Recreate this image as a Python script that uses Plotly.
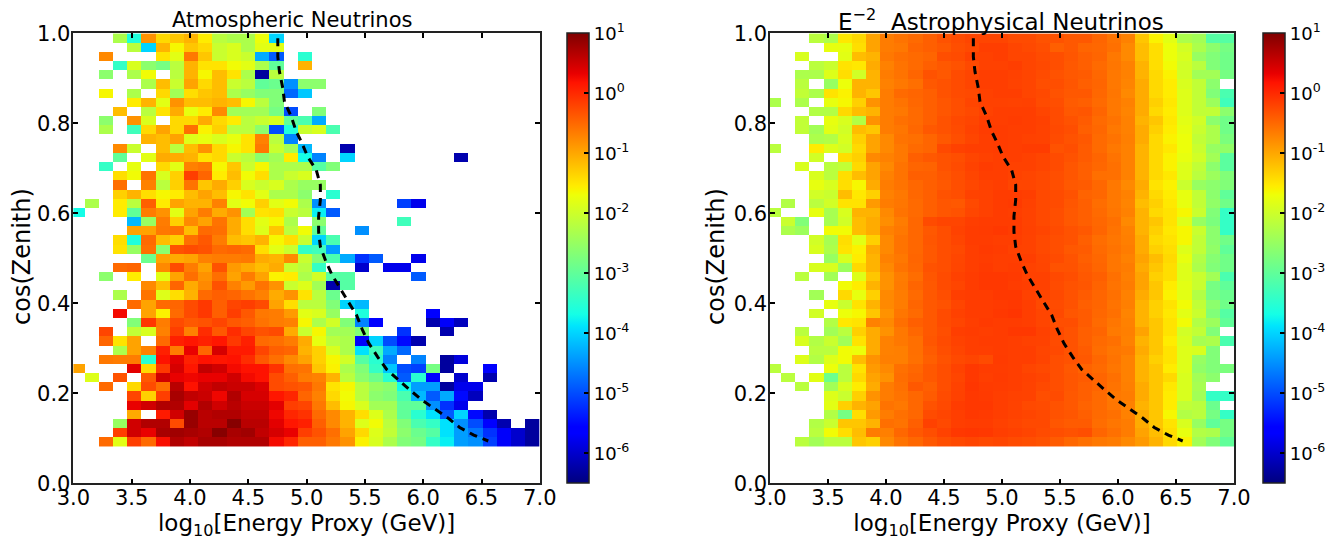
import numpy as np
import plotly.graph_objects as go

_ = None
# Cell values as read by eye against the colours, top row (cos zenith = 1) first; short rows are empty on the right.
ATM = [
[_,_,_,-2.3,-3.6,-1.0,-1.4,-1.3,-1.2,-1.6,-2.2,-2.3,-2.3,-1.8,-4.0],
[_,_,_,_,-2.2,-4.0,-1.2,-1.7,-1.3,-1.4,-2.1,-2.0,-2.3,-1.9,-1.9],
[_,_,-.95,_,_,_,-1.5,-1.9,-.8,-1.3,-2.1,-2.0,-2.1,-4.3,-4.9,_,-3.5],
[_,_,_,-3.4,-2.0,-2.6,-2.8,-2.2,-1.2,-1.5,-1.5,-1.75,-1.9,-2.3,-3.0,_,-1.2],
[_,_,-2.6,_,-2.3,-1.75,_,-2.2,-1.2,-1.7,-1.25,-1.5,-2.3,-6.3,-2.2],
[_,_,_,_,_,-2.3,-1.25,-2.1,-1.1,-1.4,-1.25,-2.1,-2.2,-3.0,-2.9,-4.5,-2.6,-2.6],
[_,_,-1.7,_,-2.3,_,-1.4,-2.4,-1.45,-1.3,-1.25,-2.3,-2.5,-2.7,-2.7,-4.8,-4.1],
[_,_,_,_,-1.6,-1.2,-1.9,-1.0,-1.25,-1.25,-1.2,-1.25,-1.7,-2.2,-2.7],
[_,_,_,-1.25,_,-2.2,-1.5,-1.15,-1.85,-1.6,-.95,-2.4,-2.4,-2.4,-2.8,-5.0,_,-2.7],
[_,_,-2.6,_,-1.0,-2.0,_,-1.4,-1.4,-1.15,-1.4,-1.6,-2.2,-2.1,-2.0,-3.0,-3.2,-4.3],
[_,_,-2.3,_,-3.3,-1.4,-1.1,-1.4,-.7,-1.65,-1.35,-2.2,-2.2,-2.6,-5.0,-3.6,-2.1,-2.0,-3.2],
[_,_,_,_,_,-1.2,-1.25,-1.1,-1.95,-1.85,-2.0,-1.85,-1.5,-.9,-2.2,-4.6],
[_,_,_,-.95,-2.1,_,-1.25,-2.2,-1.25,-1.0,-1.4,-1.7,-1.5,-.8,-2.1,-2.4,-4.2,_,_,-6.2],
[_,_,_,-3.0,_,-1.9,-1.15,-1.15,-1.2,-1.5,-1.4,-2.1,-2.2,-2.6,-2.4,-1.6,-3.7,-4.6,_,-4.0,_,_,_,_,_,_,_,-6.2],
[_,_,-3.4,_,-1.85,_,-1.4,-1.9,-.9,-.8,-1.7,-1.3,-2.1,-1.7,-2.3,-2.3,-2.3,-3.1,-2.7],
[_,_,_,-1.45,-1.75,-.75,-2.0,-1.35,-.3,-.6,-1.6,-1.25,-1.75,-1.45,-2.3,-2.1,-2.0],
[_,_,_,-.7,_,-.9,-2.2,-1.35,-.75,-1.3,-1.15,-1.35,-2.0,-2.1,-2.0,-2.3,-2.5,-2.5],
[_,_,_,-1.35,-1.2,-1.45,-1.7,-1.6,-1.25,-1.1,-1.25,-1.7,-1.5,-1.9,-2.3,-2.3,-2.6,_,-3.5],
[_,-2.3,_,-1.6,-2.2,-.55,-1.6,-1.1,-1.2,-1.2,-.9,-1.9,-1.75,-1.35,-1.9,-1.75,-2.3,-4.5,_,_,_,_,_,-5.1,-5.8],
[-3.7,_,_,-1.6,-3.0,-.85,-1.0,-1.9,-1.1,-.85,-1.15,-1.0,-2.4,-1.5,-1.45,-2.1,-2.2,-3.8,-4.9],
[_,_,_,_,-4.2,-2.5,-.85,-1.35,-.95,-1.1,-.75,-1.15,-1.45,-1.9,-1.7,-2.3,_,-2.6,_,_,_,_,_,-3.3],
[_,_,_,_,-1.1,-1.1,-.8,-.75,-1.25,-.65,-.7,-1.15,-1.45,-1.95,-1.3,-2.2,-1.75,-3.0,_,_,-4.5],
[_,_,_,-1.45,-3.6,-.65,-1.25,-1.35,-.7,-.5,-.85,-1.25,-1.3,-1.2,-1.7,-1.45,-2.1,-4.0,-3.2],
[_,_,_,-1.5,-2.5,-.7,-2.6,-.45,-.4,-.45,-.65,-.6,-.65,-1.45,-1.9,-2.1,-3.4,-3.3,-4.4],
[_,_,_,_,_,-2.9,-1.1,-1.15,-1.1,-.9,-.85,-.85,-.8,-1.15,-1.2,-.95,-2.1,-2.7,-3.2,-4.3,-5.2,-4.9,_,_,-5.8],
[_,_,_,-.65,-.6,_,-.95,-.4,-.85,-1.1,-.45,-1.05,-1.15,-1.25,-1.15,-2.1,-2.2,-3.4,_,_,-6.0,_,-5.8,-5.8],
[_,_,-2.6,_,-1.6,_,-1.9,-1.1,-.7,-1.0,-.7,-1.1,-.85,-1.1,-1.65,-1.6,-2.3,-2.05,-3.1,-3.1,_,_,_,_,-4.9],
[_,_,_,_,_,-.95,-1.25,-.6,-1.15,-.95,-.45,-.9,-1.05,-.75,-1.0,-2.1,-1.95,-2.4,-6.2,-3.1],
[_,_,_,-2.3,_,-.75,-1.95,-1.45,-1.2,-.65,-.55,-.6,-.75,-.9,-1.15,-1.0,-1.5,-2.2,-2.9],
[_,_,_,_,-.65,-1.1,-.65,-.6,-.4,-.25,-.55,-.35,-.3,-.4,-1.1,-1.45,-2.2,-2.2,-2.7,-4.0,-4.2],
[_,_,_,.2,_,-1.1,-1.65,-.65,-.4,-.25,-.55,-.3,-.5,-.8,-.85,-1.05,-1.9,-2.0,-2.5,_,-3.6,_,_,_,_,-5.6],
[_,_,_,_,-2.7,-.25,-.85,-.4,-.5,-.45,-.35,-.5,-.55,-.75,-.85,-.9,-1.7,-2.3,-2.05,-2.7,-4.6,-5.6,_,_,_,-6.2,-5.7,-6.1],
[_,_,-.35,_,-2.15,-2.0,-.9,-.3,-.9,-.15,-.5,-.15,-.35,-.45,-.4,-1.15,-2.1,-1.7,-2.4,-2.4,-2.7,_,_,-5.2,_,_,-6.2],
[_,_,-.6,-1.5,-1.1,_,-.65,-.05,.05,-.05,.05,-.25,-.05,-.65,-.7,-.85,-1.15,-1.85,-2.2,-2.3,-5.7,-4.0,-5.0,-5.5,-6.2],
[_,_,_,-2.3,-1.1,-.9,-.05,-.85,.3,-.6,.45,0,0,-.35,-.55,-.6,-1.2,-1.35,-2.0,-2.3,-3.9,-3.3,-4.3,-4.8],
[_,_,-.8,-.85,-.85,-3.5,.1,.35,-.05,.1,.05,.1,-.15,-.5,-.7,-.95,-1.1,-1.35,-1.7,-2.05,-3.1,-3.5,-4.6,_,-4.6,_,-6.3,-5.9],
[-1.1,_,_,_,.35,-1.4,-.25,.45,.05,.6,.5,.2,.1,.1,-.2,-.7,-.75,-1.3,-1.65,-2.3,-2.7,-3.4,-4.1,-5.0,-5.1,-2.8,-6.3,_,_,-5.6],
[_,-1.95,_,-.45,_,-.5,.5,.3,.25,.3,.3,.5,.2,.1,-.4,-.55,-.85,-.9,-1.2,-2.2,-2.6,-2.9,-3.5,-4.9,-3.5,-5.6,_,-6.0,_,-6.2],
[_,_,-.65,_,-1.4,-.4,-.7,.65,.1,.5,.6,.55,.55,.4,-.4,-.45,-.5,-.8,-1.5,-1.7,-2.2,-2.5,-2.6,-3.7,-4.4,-4.4,-6.3,-5.8,-5.8],
[_,_,_,_,-.35,-1.35,-.3,.75,.6,.55,.25,.7,.45,.45,.05,-.1,-.6,-.9,-1.4,-1.75,-2.2,-2.6,-2.7,-3.2,-4.2,-4.9,-4.3,-5.5,-6.1],
[_,_,_,_,.3,.5,.7,.7,.35,.7,.5,.65,.55,.55,.35,-.3,-.35,-.8,-1.25,-1.7,-2.0,-2.4,-2.4,-3.0,-3.0,-4.5,-5.2,-5.8],
[_,_,_,_,-1.15,_,0,.5,.85,.65,.7,.7,.6,.6,.25,-.1,-.2,-.65,-.95,-1.2,-1.45,-1.95,-2.3,-3.0,-3.5,-3.9,-4.9,-4.0,-5.5,-6.2],
[_,_,_,-2.5,.5,.7,.7,-.4,.85,.65,.65,.95,.65,.65,.35,.05,-.05,-.55,-.95,-1.2,-1.95,-1.75,-2.2,-2.7,-3.2,-3.4,-3.9,-4.5,-5.0,-5.6,-6.2,_,-6.3],
[_,_,_,-.3,.5,.3,.75,.8,.75,.7,.95,.75,.8,.6,.45,.3,-.3,-.45,-.7,-1.1,-1.4,-1.95,-2.15,-2.6,-2.9,-3.1,-3.9,-4.4,-4.7,-5.2,-5.7,-6.0,-6.3],
[_,_,-.65,-1.9,-.3,-.65,.15,.7,.6,.75,.75,.7,.7,.7,.2,-.1,-.55,-.55,-.8,-1.0,-1.65,-2.0,-2.3,-2.7,-2.8,-3.4,-3.8,-4.4,-4.5,-5.1,-5.7,-6.0,-6.3],
]
ASTRO = [
[_,_,_,-2.2,-2.3,-1.55,-1.4,-1.1,-.85,-.75,-.65,-.55,-.45,-.4,-.35,-.35,-.35,-.4,-.4,-.45,-.45,-.5,-.5,-.6,-.75,-.9,-1.3,-1.65,-1.9,-2.3,-2.4,-3.1,-3.1],
[_,_,_,_,-1.85,-1.85,-1.45,-1.1,-.85,-.8,-.6,-.55,-.5,-.42,-.38,-.3,-.3,-.35,-.38,-.42,-.55,-.5,-.6,-.62,-.72,-.95,-1.25,-1.45,-1.8,-2.05,-2.3,-2.6,-2.8],
[_,_,-2.0,_,_,-1.9,-1.25,-1.2,-.8,-.7,-.65,-.6,-.42,-.4,-.32,-.32,-.3,-.35,-.35,-.4,-.42,-.48,-.55,-.6,-.8,-.95,-1.25,-1.45,-1.8,-2.0,-2.5,-2.7,-2.85],
[_,_,_,-2.2,-2.1,-1.5,-1.55,-1.15,-.9,-.75,-.65,-.55,-.5,-.45,-.38,-.32,-.32,-.3,-.35,-.38,-.42,-.5,-.55,-.65,-.78,-.9,-1.2,-1.45,-1.75,-2.05,-2.2,-2.7,-2.85],
[_,_,-2.3,-2.3,-1.95,-1.45,-2.05,-1.2,-.85,-.75,-.6,-.45,-.5,-.4,-.35,-.3,-.3,-.32,-.35,-.4,-.45,-.5,-.52,-.62,-.8,-.9,-1.2,-1.4,-1.65,-2.05,-2.4,-2.4,-2.8],
[_,_,-2.2,_,-2.5,-1.8,-1.2,-1.2,-.9,-.8,-.7,-.5,-.45,-.4,-.35,-.3,-.3,-.33,-.35,-.42,-.42,-.48,-.55,-.6,-.8,-.92,-1.15,-1.4,-1.6,-2.0,-2.15,-2.6,_],
[_,_,-2.15,-2.3,-1.5,-1.65,-1.2,-1.3,-.85,-.65,-.6,-.55,-.45,-.4,-.38,-.32,-.3,-.3,-.35,-.38,-.45,-.5,-.5,-.62,-.78,-.95,-1.15,-1.4,-1.6,-1.95,-2.15,-2.7,-3.2],
[-2.3,_,-2.3,_,-1.85,-1.7,-1.35,-1.0,-.85,-.75,-.62,-.55,-.48,-.42,-.35,-.32,-.32,-.33,-.32,-.4,-.42,-.52,-.55,-.65,-.8,-.9,-1.15,-1.35,-1.55,-1.95,-2.15,-2.45,-3.3],
[_,_,_,-2.25,-2.25,-1.4,-1.25,-1.2,-.85,-.8,-.65,-.55,-.48,-.42,-.38,-.33,-.3,-.3,-.3,-.35,-.4,-.5,-.48,-.6,-.8,-.92,-1.15,-1.4,-1.6,-1.95,-2.15,-2.15,-2.6],
[_,_,-2.15,_,-1.85,-2.0,-2.25,-1.0,-.85,-.72,-.65,-.55,-.45,-.38,-.35,-.3,-.3,-.28,-.3,-.32,-.4,-.45,-.52,-.65,-.75,-.9,-1.2,-1.3,-1.55,-1.9,-2.05,-2.6,-2.85],
[_,_,-2.15,-2.4,-1.9,-2.05,-1.25,-1.3,-.85,-.78,-.62,-.5,-.45,-.4,-.33,-.28,-.28,-.3,-.3,-.33,-.38,-.42,-.55,-.62,-.8,-.9,-1.15,-1.35,-1.6,-1.85,-2.1,-2.3,-2.85],
[_,_,_,-2.3,-2.25,-2.0,-1.35,-1.1,-.95,-.75,-.7,-.6,-.5,-.42,-.35,-.3,-.28,-.3,-.32,-.33,-.4,-.45,-.5,-.65,-.75,-.88,-1.15,-1.4,-1.65,-1.8,-2.15,-2.3,-2.75],
[-2.2,_,_,-1.6,-1.95,-2.05,-1.4,-1.1,-.95,-.8,-.65,-.6,-.38,-.32,-.3,-.3,-.28,-.3,-.28,-.28,-.45,-.42,-.52,-.65,-.8,-.9,-1.2,-1.4,-1.55,-1.8,-2.1,-2.5,-2.55],
[_,_,_,-2.05,_,-1.45,-1.35,-.95,-.9,-.8,-.55,-.5,-.45,-.42,-.35,-.32,-.3,-.3,-.32,-.35,-.4,-.45,-.52,-.6,-.75,-.9,-1.2,-1.4,-1.65,-1.85,-2.05,-2.4,-3.05],
[_,_,-2.0,_,-2.2,-2.15,-1.4,-1.1,-.95,-.75,-.6,-.58,-.45,-.4,-.33,-.28,-.3,-.32,-.32,-.35,-.4,-.48,-.55,-.62,-.72,-.9,-1.2,-1.4,-1.65,-1.95,-2.15,-2.6,-3.05],
[_,_,_,-2.0,-2.2,-1.45,-1.25,-1.1,-.9,-.75,-.55,-.55,-.48,-.42,-.35,-.3,-.3,-.33,-.35,-.38,-.42,-.48,-.55,-.7,-.72,-.9,-1.2,-1.4,-1.55,-1.95,-2.2,-2.45,-2.7],
[_,_,_,-1.85,-2.0,-1.45,-1.7,-1.15,-.85,-.75,-.62,-.55,-.5,-.42,-.37,-.32,-.3,-.35,-.35,-.38,-.42,-.5,-.52,-.62,-.8,-.95,-1.15,-1.5,-1.65,-2.1,-2.5,-2.6,-2.7],
[_,_,_,-2.05,-2.1,-1.25,-1.55,-1.35,-.9,-.8,-.62,-.55,-.45,-.42,-.33,-.32,-.28,-.28,-.3,-.38,-.4,-.45,-.58,-.62,-.8,-.9,-1.2,-1.4,-1.6,-1.85,-2.15,-2.6,-3.0],
[_,-2.25,_,-2.2,-2.05,-1.5,-1.5,-1.05,-.85,-.78,-.65,-.55,-.48,-.5,-.38,-.32,-.28,-.26,-.32,-.38,-.4,-.48,-.55,-.68,-.8,-.92,-1.25,-1.35,-1.55,-1.85,-2.15,-2.55,-2.85],
[-2.2,_,_,-1.85,-2.35,-2.0,-1.2,-1.2,-.95,-.75,-.65,-.55,-.48,-.45,-.36,-.32,-.28,-.3,-.33,-.38,-.42,-.5,-.55,-.65,-.78,-.9,-1.2,-1.4,-1.5,-1.7,-2.1,-2.7,-3.4],
[_,-2.1,-2.7,_,-2.35,-2.05,-1.25,-1.15,-.98,-.85,-.62,-.4,-.35,-.35,-.3,-.28,-.28,-.28,-.33,-.38,-.42,-.5,-.55,-.62,-.72,-.95,-1.2,-1.3,-1.5,-1.95,-2.5,-2.75,-3.4],
[_,-2.3,-2.45,_,-1.75,-1.75,-1.25,-1.15,-.9,-.8,-.62,-.5,-.42,-.33,-.28,-.27,-.25,-.28,-.32,-.35,-.4,-.45,-.5,-.6,-.75,-.9,-1.2,-1.35,-1.55,-1.7,-2.1,-2.6,-3.4],
[_,_,_,-2.05,-2.35,-1.45,-1.9,-1.35,-.95,-.75,-.62,-.48,-.42,-.35,-.28,-.28,-.3,-.3,-.33,-.38,-.42,-.45,-.55,-.68,-.78,-.88,-1.15,-1.4,-1.5,-1.7,-2.15,-2.6,-2.85],
[_,_,_,-2.0,-2.3,-1.5,-1.65,-1.15,-.95,-.75,-.62,-.5,-.42,-.38,-.3,-.26,-.28,-.32,-.33,-.38,-.42,-.5,-.52,-.65,-.75,-.85,-1.15,-1.35,-1.45,-1.95,-2.15,-2.55,-3.0],
[_,_,_,_,-2.5,-2.0,-1.6,-1.2,-.9,-.8,-.6,-.5,-.42,-.36,-.3,-.28,-.3,-.3,-.3,-.36,-.4,-.46,-.55,-.62,-.78,-.9,-1.1,-1.25,-1.4,-1.85,-2.25,-2.65,-2.85],
[_,_,_,-2.0,-2.0,-2.45,-1.4,-1.2,-.95,-.75,-.62,-.45,-.42,-.35,-.3,-.26,-.3,-.28,-.33,-.35,-.45,-.45,-.52,-.6,-.78,-.85,-1.15,-1.3,-1.45,-1.95,-2.3,-2.7,-2.85],
[_,_,-2.2,_,-2.4,_,-1.95,-1.3,-1.0,-.85,-.68,-.48,-.4,-.32,-.28,-.25,-.25,-.26,-.32,-.32,-.38,-.42,-.5,-.55,-.72,-.88,-1.1,-1.35,-1.45,-1.95,-2.1,-2.4,-3.2],
[_,_,_,_,_,-1.75,-1.6,-1.2,-1.0,-.82,-.6,-.5,-.4,-.35,-.28,-.25,-.25,-.28,-.3,-.32,-.4,-.45,-.48,-.58,-.75,-.85,-1.1,-1.3,-1.6,-1.9,-2.1,-2.8,-3.0],
[_,_,_,-2.4,_,-1.4,-1.85,-1.35,-.95,-.85,-.65,-.5,-.42,-.3,-.28,-.28,-.25,-.25,-.32,-.35,-.38,-.45,-.52,-.6,-.72,-.9,-1.15,-1.3,-1.65,-1.9,-2.25,-2.8,-2.9],
[_,_,_,_,-1.85,-2.1,-1.5,-1.2,-.95,-.85,-.6,-.5,-.45,-.35,-.28,-.28,-.26,-.25,-.3,-.38,-.4,-.45,-.55,-.6,-.75,-.88,-1.2,-1.35,-1.5,-1.75,-2.15,-2.6,-2.85],
[_,_,_,-2.05,_,-1.8,-1.7,-1.3,-1.0,-.78,-.65,-.5,-.4,-.32,-.28,-.28,-.25,-.22,-.3,-.35,-.38,-.48,-.52,-.62,-.72,-.92,-1.2,-1.35,-1.55,-1.9,-2.1,-2.7,-3.1],
[_,_,_,_,-2.25,-1.55,-1.5,-.9,-.95,-.7,-.55,-.5,-.4,-.35,-.3,-.26,-.28,-.28,-.3,-.35,-.42,-.42,-.52,-.65,-.78,-.9,-1.2,-1.3,-1.5,-1.75,-2.25,-2.45,-3.0],
[_,_,-2.2,_,-2.4,-2.2,-1.35,-1.15,-1.0,-.8,-.62,-.5,-.42,-.3,-.28,-.3,-.28,-.25,-.25,-.32,-.38,-.45,-.55,-.6,-.82,-.88,-1.1,-1.3,-1.5,-2.05,-2.15,-2.7,_],
[_,_,-2.0,-2.25,-2.1,-2.4,-1.5,-1.15,-.9,-.8,-.7,-.48,-.4,-.33,-.3,-.28,-.28,-.3,-.32,-.33,-.4,-.45,-.55,-.65,-.72,-.9,-1.2,-1.3,-1.6,-2.0,-2.35,-2.3,-3.2],
[_,_,_,-2.2,-2.2,-1.75,-1.8,-1.15,-.9,-.88,-.7,-.52,-.42,-.35,-.3,-.3,-.28,-.3,-.3,-.35,-.38,-.45,-.52,-.68,-.78,-.82,-1.15,-1.3,-1.5,-1.95,-2.0,-2.7,_],
[_,_,-1.95,-2.25,-1.95,-1.75,-1.25,-1.0,-.88,-.88,-.72,-.55,-.45,-.38,-.35,-.4,-.27,-.3,-.3,-.34,-.42,-.45,-.5,-.62,-.75,-.9,-1.2,-1.35,-1.5,-1.95,-2.5,-2.7,_],
[-2.2,_,_,_,-1.8,-2.2,-1.5,-1.05,-.95,-.72,-.62,-.5,-.42,-.33,-.25,-.28,-.28,-.3,-.35,-.38,-.42,-.5,-.58,-.65,-.78,-.9,-1.2,-1.3,-1.6,-1.95,-2.55,-2.7,-2.75],
[_,-2.2,_,-1.9,-2.9,-2.2,-1.4,-1.1,-1.0,-.68,-.58,-.5,-.42,-.35,-.25,-.3,-.27,-.3,-.32,-.35,-.42,-.48,-.52,-.6,-.72,-.9,-1.2,-1.3,-1.4,-2.0,-2.4,-2.6,_],
[_,_,-2.2,_,-2.4,-2.0,-1.6,-1.15,-.85,-.72,-.5,-.55,-.42,-.33,-.23,-.27,-.28,-.3,-.33,-.38,-.42,-.48,-.55,-.6,-.75,-.88,-1.15,-1.3,-1.55,-2.0,-2.35,_,_],
[_,_,_,_,-1.95,-2.1,-1.35,-1.0,-.85,-.75,-.62,-.52,-.4,-.32,-.25,-.26,-.3,-.32,-.33,-.42,-.4,-.5,-.55,-.65,-.8,-.85,-1.15,-1.3,-1.6,-2.0,-2.4,-3.4,-3.4],
[_,_,_,_,-1.9,-1.35,-1.2,-1.1,-.75,-.8,-.62,-.45,-.38,-.28,-.25,-.25,-.3,-.33,-.38,-.4,-.45,-.5,-.58,-.65,-.78,-.9,-1.2,-1.3,-1.6,-2.15,-2.2,-2.9,_],
[_,_,_,_,-2.25,-2.8,-1.45,-1.05,-.85,-.72,-.62,-.4,-.35,-.3,-.25,-.26,-.3,-.33,-.35,-.38,-.45,-.48,-.55,-.65,-.72,-.9,-1.15,-1.3,-1.7,-2.25,-2.2,-2.8,-3.4],
[_,_,_,-2.25,-2.1,-1.3,-1.3,-1.2,-.7,-.75,-.55,-.32,-.38,-.3,-.28,-.28,-.32,-.35,-.38,-.38,-.48,-.52,-.52,-.68,-.78,-.85,-1.15,-1.3,-1.5,-2.0,-2.5,-3.0,-2.8],
[_,_,_,-2.2,-1.75,-1.45,-1.25,-.85,-.88,-.62,-.5,-.42,-.33,-.25,-.23,-.25,-.3,-.32,-.35,-.4,-.42,-.45,-.42,-.6,-.72,-.85,-1.1,-1.25,-1.45,-1.85,-2.25,-2.3,-2.8],
[_,_,-2.2,-2.4,-2.2,-2.2,-1.3,-1.35,-.95,-.75,-.62,-.5,-.42,-.38,-.35,-.38,-.36,-.4,-.42,-.45,-.52,-.62,-.72,-.8,-.85,-.95,-1.05,-1.2,-1.4,-1.65,-2.4,-2.7,-3.0],
]
# Eye readings above ran slightly low in the orange-red range; these pairs (reading, log10 value) correct them.
READ = [-7, -2.25, -2.0, -1.7, -1.4, -1.2, -.9, -.6, -.3, 0, .25, .55, 1]
LOG10 = [-7, -2.25, -1.9, -1.63, -1.4, -1.1, -.7, -.48, -.17, .12, .28, .52, 1]
# Median energy proxy versus cos(zenith), drawn on both panels.
MEDIAN_LOGE = [4.753,4.753,4.767,4.796,4.810,4.868,4.911,4.960,5.009,5.083,5.118,5.118,5.103,5.103,5.118,5.164,5.218,5.284,5.356,5.428,5.477,5.534,5.609,5.687,5.787,5.888,5.989,6.098,6.213,6.313,6.434,6.558]
MEDIAN_COSZ = [.989,.948,.915,.878,.848,.815,.782,.756,.726,.696,.663,.630,.593,.559,.526,.494,.463,.434,.404,.374,.342,.311,.281,.253,.229,.207,.185,.165,.145,.124,.107,.094]

X_EDGES = [round(2.974 + .122 * k, 3) for k in range(34)]
Y_EDGES = [round(.0816 + .0204 * k, 4) for k in range(46)]
CB_VALS = [1, 0, -1, -2, -3, -4, -5, -6]
CB_TEXT = ["10<sup>1</sup>", "10<sup>0</sup>", "10<sup>-1</sup>", "10<sup>-2</sup>", "10<sup>-3</sup>", "10<sup>-4</sup>", "10<sup>-5</sup>", "10<sup>-6</sup>"]
JET = [[0, "rgb(0,0,127)"], [.11, "rgb(0,0,255)"], [.125, "rgb(0,0,255)"], [.34, "rgb(0,219,255)"], [.35, "rgb(0,230,252)"],
       [.375, "rgb(21,255,230)"], [.64, "rgb(238,255,8)"], [.65, "rgb(247,246,0)"], [.66, "rgb(255,236,0)"],
       [.89, "rgb(255,19,0)"], [.91, "rgb(232,0,0)"], [1, "rgb(127,0,0)"]]
TITLES = ["Atmospheric Neutrinos", "E<sup>−2</sup>  Astrophysical Neutrinos"]
FONT = "DejaVu Sans"
BODY = 8  # the page keeps its default 8 px body margin
W, H = 1338 - BODY, 542 - BODY
TOP, BOT = 33.3, 483.3
ML, MR, MT, MB = 30, 10, 15, 10


def fx(px):
    return (px - BODY - ML) / (W - ML - MR)


def fy(py):
    return 1 - (py - BODY - MT) / (H - MT - MB)


def prepare(rows):
    out = []
    for r in rows[::-1]:
        cells = r + [None] * (33 - len(r))
        out.append([None if v is None else float(np.interp(v, READ, LOG10)) for v in cells])
    return out


fig = go.Figure()
panels = [(ATM, 567, "x", "y"), (ASTRO, 1263, "x2", "y2")]
for z, cb, xa, ya in panels:
    fig.add_trace(go.Heatmap(
        z=prepare(z), x=X_EDGES, y=Y_EDGES, xaxis=xa, yaxis=ya, zmin=-6.5, zmax=1, colorscale=JET,
        hoverongaps=False,
        colorbar=dict(x=fx(cb), xanchor="left", xpad=0, ypad=0, y=fy(BOT), yanchor="bottom",
                      lenmode="fraction", len=fy(TOP) - fy(BOT), thickness=22, thicknessmode="pixels",
                      tickvals=CB_VALS, ticktext=CB_TEXT, ticks="inside", ticklen=5, tickwidth=1.5,
                      tickcolor="black", outlinecolor="#222", outlinewidth=1.5,
                      tickfont=dict(family=FONT, size=18, color="black"))))
    fig.add_trace(go.Scatter(x=MEDIAN_LOGE, y=MEDIAN_COSZ, xaxis=xa, yaxis=ya, mode="lines",
                             line=dict(color="black", width=3, dash="8px,6px"), showlegend=False))

axis = dict(ticks="inside", ticklen=5, tickwidth=1.5, tickcolor="black", showline=True, linecolor="#222",
            linewidth=1.5, mirror="ticks", showgrid=False, zeroline=False,
            tickfont=dict(family=FONT, size=21, color="black"), layer="above traces")
xt = dict(text="log<sub>10</sub>[Energy Proxy (GeV)]", font=dict(family=FONT, size=23, color="black"), standoff=6)
xcommon = dict(axis, range=[3, 7], tickvals=[3, 3.5, 4, 4.5, 5, 5.5, 6, 6.5, 7], ticklabelstandoff=-5,
               ticktext=["3.0", "3.5", "4.0", "4.5", "5.0", "5.5", "6.0", "6.5", "7.0"], title=xt)
ycommon = dict(axis, range=[0, 1], tickvals=[0, .2, .4, .6, .8, 1], ticklabelstandoff=-3,
               ticktext=["0.0", "0.2", "0.4", "0.6", "0.8", "1.0"])
ydom = [fy(BOT), fy(TOP)]


def note(text, px, py, size, **kw):
    return dict(text=text, x=fx(px), y=fy(py), xref="paper", yref="paper", showarrow=False, xanchor="center",
                font=dict(family=FONT, size=size, color="black"), **kw)


fig.update_layout(
    width=W, height=H, margin=dict(l=ML, r=MR, t=MT, b=MB, autoexpand=False), paper_bgcolor="white", plot_bgcolor="white",
    showlegend=False,
    xaxis=dict(xcommon, domain=[fx(73.4), fx(539.8)], anchor="y"),
    yaxis=dict(ycommon, domain=ydom, anchor="x"),
    xaxis2=dict(xcommon, domain=[fx(770), fx(1234)], anchor="y2"),
    yaxis2=dict(ycommon, domain=ydom, anchor="x2"),
    annotations=[
        note(TITLES[0], 292, 34, 21, yanchor="bottom"),
        note(TITLES[1], 1001, 37, 23, yanchor="bottom"),
        note("cos(Zenith)", 22, 257, 24, yanchor="middle", textangle=-90),
        note("cos(Zenith)", 716, 257, 24, yanchor="middle", textangle=-90),
    ])
fig.write_html("out.html")
